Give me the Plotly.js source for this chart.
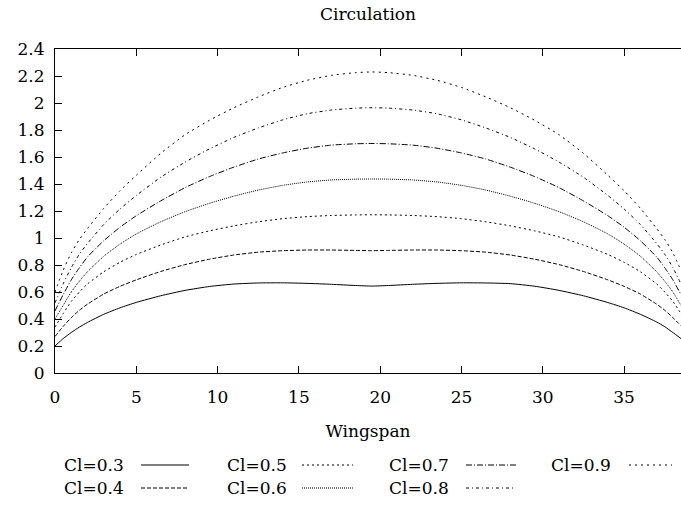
<!DOCTYPE html>
<html>
<head>
<meta charset="utf-8">
<script src="https://cdn.plot.ly/plotly-3.0.1.min.js"></script>
<style>
html,body{margin:0;padding:0;background:#fff;overflow:hidden;}
#chart{width:681px;height:514px;}
</style>
</head>
<body>
<div id="chart"></div>
<script>
// ---- data ----
const wingspan = [0, 0.5, 1, 1.5, 2, 3, 4, 5, 6.5, 8, 9.5, 11, 12.5, 14, 15.5, 17, 18.5, 19.5,
                  20.5, 22, 23.5, 25, 26.5, 28, 29.5, 31, 32.5, 34, 35, 36, 37, 37.5, 38, 38.5];
const seriesNames = ["Cl=0.3", "Cl=0.4", "Cl=0.5", "Cl=0.6", "Cl=0.7", "Cl=0.8", "Cl=0.9"];
const cl03 = [0.20,0.255,0.30,0.34,0.375,0.435,0.483,0.523,0.572,0.612,0.641,0.659,0.667,0.668,0.664,0.657,0.648,0.644,
              0.648,0.657,0.664,0.668,0.667,0.662,0.643,0.612,0.572,0.522,0.483,0.435,0.378,0.343,0.30,0.255];
const cl04 = [0.27,0.345,0.41,0.465,0.51,0.585,0.642,0.69,0.752,0.803,0.843,0.874,0.895,0.906,0.911,0.911,0.908,0.906,
              0.908,0.911,0.911,0.906,0.895,0.874,0.843,0.803,0.752,0.69,0.642,0.585,0.51,0.465,0.41,0.35];
const cl05 = [0.34,0.44,0.53,0.60,0.66,0.75,0.82,0.878,0.948,1.008,1.053,1.09,1.12,1.143,1.158,1.167,1.171,1.172,
              1.171,1.167,1.158,1.143,1.12,1.09,1.053,1.008,0.948,0.878,0.82,0.75,0.66,0.60,0.53,0.44];
const cl06 = [0.40,0.50,0.60,0.68,0.75,0.865,0.955,1.03,1.12,1.195,1.257,1.31,1.355,1.39,1.415,1.43,1.436,1.437,
              1.436,1.43,1.415,1.39,1.355,1.31,1.257,1.195,1.12,1.03,0.955,0.865,0.75,0.68,0.60,0.50];
const cl07 = [0.46,0.58,0.69,0.78,0.86,0.98,1.08,1.165,1.275,1.373,1.455,1.525,1.585,1.63,1.665,1.688,1.698,1.70,
              1.698,1.688,1.665,1.63,1.585,1.525,1.455,1.373,1.275,1.165,1.08,0.98,0.86,0.78,0.69,0.58];
const cl08 = [0.52,0.66,0.78,0.88,0.96,1.10,1.215,1.315,1.45,1.562,1.66,1.745,1.815,1.875,1.92,1.948,1.962,1.965,
              1.962,1.948,1.92,1.875,1.815,1.745,1.66,1.562,1.45,1.315,1.215,1.10,0.96,0.88,0.78,0.66];
const cl09 = [0.60,0.76,0.89,0.99,1.07,1.22,1.35,1.465,1.627,1.765,1.872,1.965,2.045,2.115,2.168,2.205,2.225,2.23,
              2.225,2.205,2.168,2.115,2.045,1.965,1.872,1.765,1.627,1.465,1.35,1.22,1.07,0.99,0.89,0.76];
const xTickVals = [0, 5, 10, 15, 20, 25, 30, 35];
const yTickVals = [0, 0.2, 0.4, 0.6, 0.8, 1, 1.2, 1.4, 1.6, 1.8, 2, 2.2, 2.4];
const yTickText = ["0", "0.2", "0.4", "0.6", "0.8", "1", "1.2", "1.4", "1.6", "1.8", "2", "2.2", "2.4"];
const xRange = [0, 38.5];
const yRange = [0, 2.4];

// ---- styles ----
const allSeries = [cl03, cl04, cl05, cl06, cl07, cl08, cl09];
const dashes = ["solid", "4px,2px", "2px,3px", "1px,1px", "6px,2px,1px,2px", "3px,3px,1px,3px", "2px,4px"];
const FONT = {family: "DejaVu Serif", size: 17, color: "#000"};

const W = 681, H = 514;
const M = {l: 55, r: 0, t: 49, b: 141};
const pw = W - M.l - M.r, ph = H - M.t - M.b;
const px2x = p => (p - M.l) / pw;
const py2y = p => (H - M.b - p) / ph;

const traces = allSeries.map((ys, i) => ({
  x: wingspan, y: ys, type: "scatter", mode: "lines", name: seriesNames[i],
  line: {color: "#000", width: 1, dash: dashes[i], shape: "spline", smoothing: 0.5},
  showlegend: false, hoverinfo: "skip"
}));
// empty trace that carries the label axes (x2/y2)
traces.push({x: [], y: [], xaxis: "x2", yaxis: "y2", type: "scatter", mode: "lines",
  showlegend: false, hoverinfo: "skip"});

// custom legend: text then line sample (column-major, 2 rows)
const colText = [62, 225, 387, 549];
const colLine = [[141, 189], [302, 353], [466, 516], [629, 672]];
const rowY = [465, 488];
const annotations = [], shapes = [];
seriesNames.forEach((n, i) => {
  const c = Math.floor(i / 2), r = i % 2;
  annotations.push({text: n, xref: "paper", yref: "paper", x: px2x(colText[c]), y: py2y(rowY[r]),
    xanchor: "left", yanchor: "middle", showarrow: false, font: FONT});
  shapes.push({type: "line", xref: "paper", yref: "paper",
    x0: px2x(colLine[c][0]), x1: px2x(colLine[c][1]), y0: py2y(rowY[r]), y1: py2y(rowY[r]),
    line: {color: "#000", width: 1, dash: dashes[i]}});
});

const tickAxis = {showline: true, linecolor: "#000", linewidth: 1, ticks: "inside", ticklen: 7,
  tickcolor: "#000", tickwidth: 1, showgrid: false, zeroline: false, showticklabels: false,
  fixedrange: true, tickmode: "array"};
const labelAxis = {showline: false, ticks: "outside", tickcolor: "rgba(0,0,0,0)", showgrid: false,
  zeroline: false, showticklabels: true, tickfont: FONT, fixedrange: true, tickmode: "array"};

const layout = {
  width: W, height: H, margin: M, paper_bgcolor: "#fff", plot_bgcolor: "#fff",
  font: FONT,
  title: {text: "Circulation", font: FONT, x: 0.5, xref: "paper", xanchor: "center",
          y: 1 - 14 / H, yref: "container", yanchor: "middle"},
  xaxis: Object.assign({}, tickAxis, {range: xRange, tickvals: xTickVals, mirror: "allticks"}),
  yaxis: Object.assign({}, tickAxis, {range: yRange, tickvals: yTickVals, mirror: false}),
  xaxis2: Object.assign({}, labelAxis, {range: xRange, tickvals: xTickVals, overlaying: "x",
          anchor: "y", side: "bottom", ticklen: 9,
          title: {text: "Wingspan", font: FONT, standoff: 18}}),
  yaxis2: Object.assign({}, labelAxis, {range: yRange, tickvals: yTickVals, ticktext: yTickText,
          overlaying: "y", anchor: "x", side: "left", ticklen: 6}),
  annotations: annotations, shapes: shapes, showlegend: false
};

Plotly.newPlot("chart", traces, layout, {displayModeBar: false, staticPlot: true});
</script>
</body>
</html>
